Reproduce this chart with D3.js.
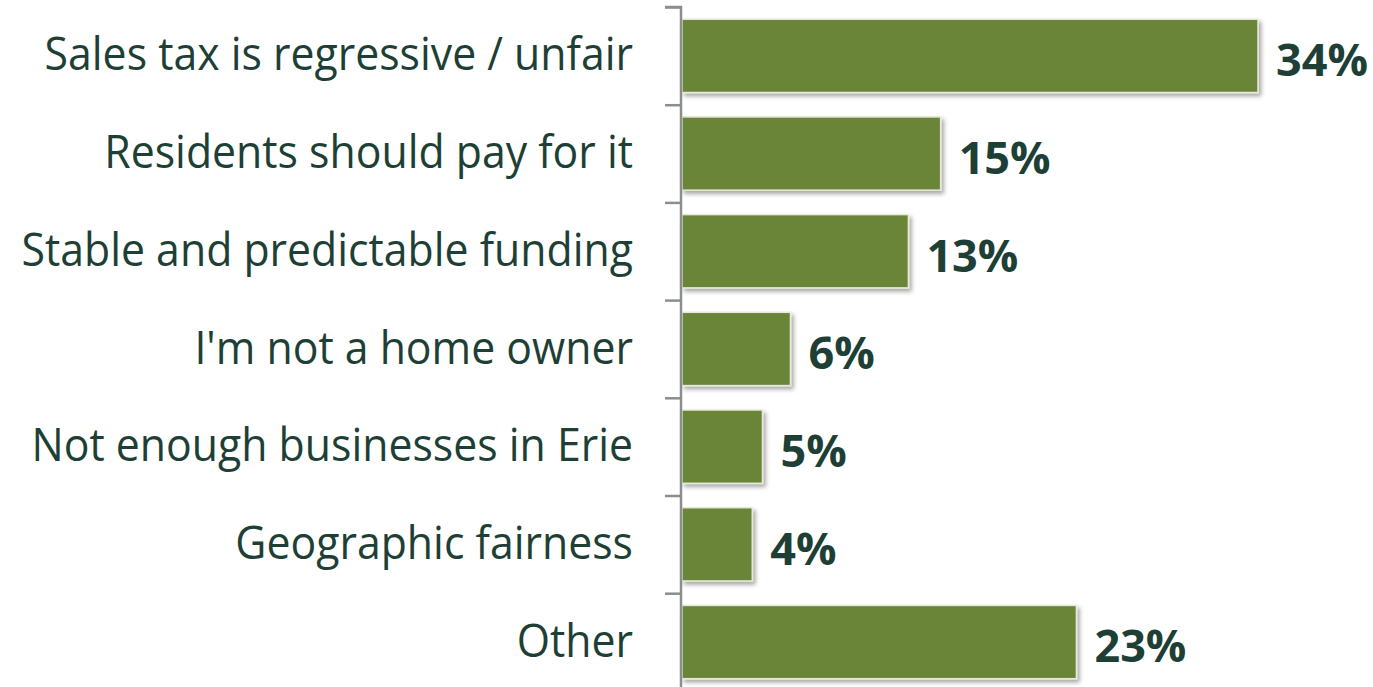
<!DOCTYPE html>
<html><head><meta charset="utf-8">
<script src="https://cdn.jsdelivr.net/npm/d3@7"></script>
<style>html,body{margin:0;padding:0;background:#fff;overflow:hidden}</style>
</head><body>
<svg id="c" width="1373" height="687"></svg>
<script>
const categories = ["Sales tax is regressive / unfair","Residents should pay for it","Stable and predictable funding","I'm not a home owner","Not enough businesses in Erie","Geographic fairness","Other"];
const values = [34, 15.3, 13.4, 6.45, 4.8, 4.2, 23.3];
const labels = ["34%","15%","13%","6%","5%","4%","23%"];

const svg = d3.select("#c");
const x0 = 681, topY = 7, band = 97.7;
const x = d3.scaleLinear().domain([0, 34]).range([x0, 1258]);
const y = d3.scaleBand().domain(categories).range([topY, topY + band*categories.length]).paddingInner(0.25).paddingOuter(0.125);

const defs = svg.append("defs");
const f = defs.append("filter").attr("id","sh").attr("x","-10%").attr("y","-20%").attr("width","130%").attr("height","150%");
f.append("feDropShadow").attr("dx",2.5).attr("dy",3).attr("stdDeviation",2).attr("flood-color","#000").attr("flood-opacity",0.35);

const textColor = "#1e3f36";
const font = "'Open Sans', 'Noto Sans', sans-serif";

svg.append("g").selectAll("rect").data(categories).join("rect")
  .attr("x", x0 + 1)
  .attr("y", d => y(d))
  .attr("width", (d,i) => x(values[i]) - x0 - 1)
  .attr("height", y.bandwidth())
  .attr("fill", "#6b8539")
  .attr("stroke", "#e4ead9")
  .attr("stroke-width", 1.5)
  .attr("filter", "url(#sh)");

// axis
const yAxis = d3.axisLeft(d3.scalePoint().domain(d3.range(categories.length+1)).range([topY, topY + band*categories.length]))
  .tickSize(16).tickFormat("");
const ag = svg.append("g").attr("transform", `translate(${x0},0)`).call(yAxis);
ag.selectAll("line,path").attr("stroke", "#8a8f8d").attr("stroke-width", 2.5);
ag.select(".domain").attr("d", `M-16,${topY}H0V${topY + band*categories.length}`);

const cat = svg.append("g").selectAll("text").data(categories).join("text")
  .attr("x", 633)
  .attr("y", d => y(d) + y.bandwidth()/2 - 1.5)
  .attr("dy", "0.35em")
  .attr("text-anchor", "end")
  .attr("font-family", font)
  .attr("font-size", 46)
  .attr("fill", textColor)
  .text(d => d);
cat.each(function(){
  const w = this.getComputedTextLength();
  d3.select(this).attr("textLength", w*0.93).attr("lengthAdjust","spacingAndGlyphs");
});

svg.append("g").selectAll("text").data(categories).join("text")
  .attr("x", (d,i) => x(values[i]) + 18)
  .attr("y", d => y(d) + y.bandwidth()/2 + 4.5)
  .attr("dy", "0.35em")
  .attr("font-family", font)
  .attr("font-weight", "bold")
  .attr("font-size", 45)
  .attr("fill", textColor)
  .text((d,i) => labels[i]);
</script>
</body></html>
